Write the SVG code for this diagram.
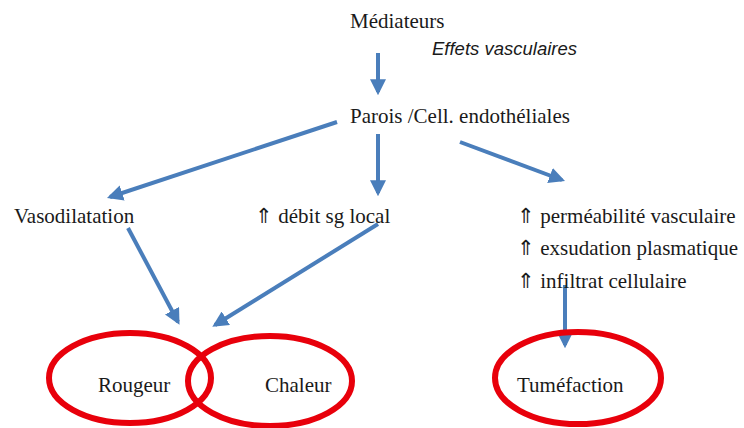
<svg xmlns="http://www.w3.org/2000/svg" width="744" height="428" viewBox="0 0 744 428">
<style>
.t{font-family:"Liberation Serif","Times New Roman",serif;font-size:21px;fill:#1a1a1a}
.i{font-family:"Liberation Sans",Arial,sans-serif;font-style:italic;font-size:18.5px;fill:#1a1a1a}
.c{stroke:#4A7EBB;stroke-width:4;fill:none;marker-end:url(#ah)}
.o{fill:none;stroke:#E8000B;stroke-width:6}
</style>
<defs>
<marker id="ah" viewBox="0 0 10 10" refX="8" refY="5" markerWidth="4" markerHeight="4" orient="auto" markerUnits="strokeWidth">
<path d="M0,0 L10,5 L0,10 Z" fill="#4A7EBB"/>
</marker>
</defs>
<rect width="744" height="428" fill="#fff"/>
<g id="connectors">
<line class="c" x1="378" y1="53" x2="378" y2="92"/>
<line class="c" x1="337" y1="122" x2="110" y2="197"/>
<line class="c" x1="378" y1="134" x2="378" y2="193"/>
<line class="c" x1="460" y1="142" x2="562" y2="180"/>
<line class="c" x1="128" y1="228" x2="178" y2="322"/>
<line class="c" x1="378" y1="224" x2="215" y2="325"/>
<line class="c" x1="565" y1="285" x2="565" y2="345"/>
</g>
<g id="mediateurs"><text class="t" x="350" y="28">Médiateurs</text></g>
<g id="effets"><text class="i" x="432" y="55">Effets vasculaires</text></g>
<g id="parois"><text class="t" x="350" y="123">Parois /Cell. endothéliales</text></g>
<g id="vasodilatation"><text class="t" x="14" y="223">Vasodilatation</text></g>
<g id="debit"><text class="t" x="255" y="223">⇑ débit sg local</text></g>
<g id="effets-droite">
<text class="t" x="517" y="223">⇑ perméabilité vasculaire</text>
<text class="t" x="517" y="255">⇑ exsudation plasmatique</text>
<text class="t" x="517" y="288">⇑ infiltrat cellulaire</text>
</g>
<g id="rougeur"><ellipse class="o" cx="130" cy="378" rx="81" ry="45"/><text class="t" x="98" y="392">Rougeur</text></g>
<g id="chaleur"><ellipse class="o" cx="270" cy="381" rx="82" ry="45"/><text class="t" x="265" y="392">Chaleur</text></g>
<g id="tumefaction"><ellipse class="o" cx="578" cy="378" rx="83" ry="46"/><text class="t" x="517" y="392">Tuméfaction</text></g>
</svg>
